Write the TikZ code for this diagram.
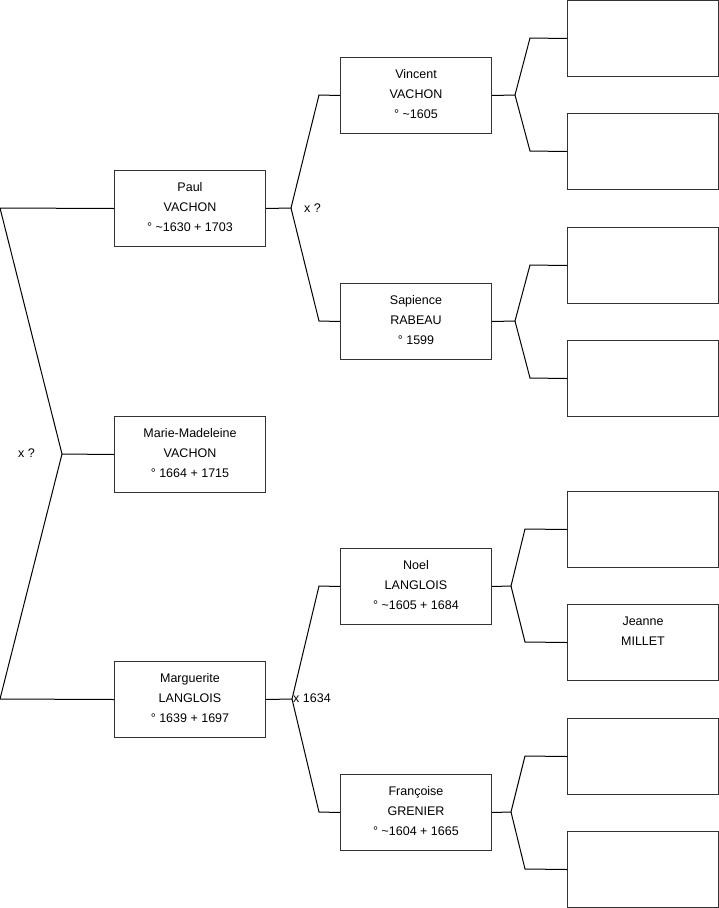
\documentclass[tikz,border=0pt]{standalone}
\usepackage{fontspec}
\setmainfont{Liberation Sans}
\usetikzlibrary{calc}
\begin{document}
\begin{tikzpicture}[x=1pt,y=-1pt,
  box/.style={draw=black!80, line width=1pt, minimum width=151pt, minimum height=76pt, inner sep=0pt, anchor=north west},
  txt/.style={font=\fontsize{12.5}{20}\selectfont, align=center, inner sep=0pt, anchor=north},
  lbl/.style={font=\fontsize{12.5}{15}\selectfont, inner sep=0pt, anchor=base west},
  wire/.style={line width=1pt, black}]
\useasboundingbox (0,0) rectangle (719,908);
% generation 1
\node[box] (paul) at (114,170) {};
\node[box] (mm) at (114,416) {};
\node[box] (marg) at (114,661) {};
% generation 2
\node[box] (vinc) at (340,57) {};
\node[box] (sap) at (340,283) {};
\node[box] (noel) at (340,548) {};
\node[box] (fran) at (340,774) {};
% generation 3
\node[box] (ga) at (567,0) {};
\node[box] (gb) at (567,113) {};
\node[box] (gc) at (567,227) {};
\node[box] (gd) at (567,340) {};
\node[box] (ge) at (567,491) {};
\node[box] (jean) at (567,604) {};
\node[box] (gg) at (567,718) {};
\node[box] (gh) at (567,831) {};
% texts
\node[txt] (paulT) at ($(paul.north)+(0,7.5)$) {\strut Paul\\VACHON\\° \textasciitilde1630 + 1703};
\node[txt] (mmT) at ($(mm.north)+(0,7.5)$) {\strut Marie-Madeleine\\VACHON\\° 1664 + 1715};
\node[txt] (margT) at ($(marg.north)+(0,7.5)$) {\strut Marguerite\\LANGLOIS\\° 1639 + 1697};
\node[txt] (vincT) at ($(vinc.north)+(0,7.5)$) {\strut Vincent\\VACHON\\° \textasciitilde1605};
\node[txt] (sapT) at ($(sap.north)+(0,7.5)$) {\strut Sapience\\RABEAU\\° 1599};
\node[txt] (noelT) at ($(noel.north)+(0,7.5)$) {\strut Noel\\LANGLOIS\\° \textasciitilde1605 + 1684};
\node[txt] (franT) at ($(fran.north)+(0,7.5)$) {\strut Françoise\\GRENIER\\° \textasciitilde1604 + 1665};
\node[txt] (jeanT) at ($(jean.north)+(0,7.5)$) {\strut Jeanne\\MILLET};
% labels
\node[lbl] (l0) at (18,457) {x ?};
\node[lbl] (l1) at (304,212) {x ?};
\node[lbl] (l2) at (293,702) {x 1634};
% root connectors
\coordinate (r0) at (0,208);
\coordinate (r1) at (62,454);
\coordinate (r2) at (0,699);
\draw[wire] (paul.west) -- (r0) -- (r1) -- (r2) -- (marg.west);
\draw[wire] (r1) -- (mm.west);
% Paul fork
\coordinate (pf) at (291,208);
\coordinate (pfa) at (319,95);
\coordinate (pfb) at (319,321);
\draw[wire] (paul.east) -- (pf) -- (pfa) -- (vinc.west);
\draw[wire] (pf) -- (pfb) -- (sap.west);
% Marguerite fork
\coordinate (mf) at (292,699);
\coordinate (mfa) at (319,586);
\coordinate (mfb) at (319,812);
\draw[wire] (marg.east) -- (mf) -- (mfa) -- (noel.west);
\draw[wire] (mf) -- (mfb) -- (fran.west);
% Vincent fork
\coordinate (vf) at (515,95);
\coordinate (vfa) at (530,38);
\coordinate (vfb) at (530,151);
\draw[wire] (vinc.east) -- (vf) -- (vfa) -- (ga.west);
\draw[wire] (vf) -- (vfb) -- (gb.west);
% Sapience fork
\coordinate (sf) at (515,321);
\coordinate (sfa) at (530,265);
\coordinate (sfb) at (530,378);
\draw[wire] (sap.east) -- (sf) -- (sfa) -- (gc.west);
\draw[wire] (sf) -- (sfb) -- (gd.west);
% Noel fork
\coordinate (nf) at (511,586);
\coordinate (nfa) at (525,529);
\coordinate (nfb) at (525,642);
\draw[wire] (noel.east) -- (nf) -- (nfa) -- (ge.west);
\draw[wire] (nf) -- (nfb) -- (jean.west);
% Francoise fork
\coordinate (ff) at (511,812);
\coordinate (ffa) at (525,756);
\coordinate (ffb) at (525,869);
\draw[wire] (fran.east) -- (ff) -- (ffa) -- (gg.west);
\draw[wire] (ff) -- (ffb) -- (gh.west);
\end{tikzpicture}
\end{document}
